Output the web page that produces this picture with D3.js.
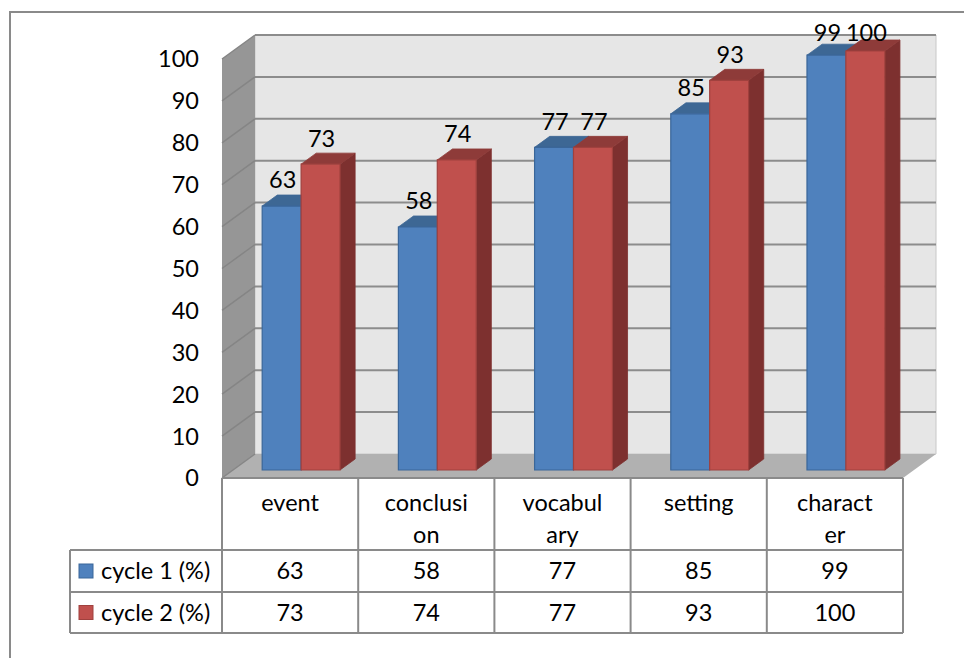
<!DOCTYPE html>
<html>
<head>
<meta charset="utf-8">
<script src="https://cdn.jsdelivr.net/npm/d3@7"></script>
<style>
  html, body { margin: 0; padding: 0; background: #fff; }
  svg { display: block; font-family: Lato, "Open Sans", sans-serif; }
</style>
</head>
<body>
<svg id="chart" width="964" height="658"></svg>
<script>
// ---- data ----
const categories = ["event", "conclusion", "vocabulary", "setting", "character"];
const categoryLines = [["event"], ["conclusi", "on"], ["vocabul", "ary"], ["setting"], ["charact", "er"]];
const seriesNames = ["cycle 1 (%)", "cycle 2 (%)"];
const cycle1 = [63, 58, 77, 85, 99];
const cycle2 = [73, 74, 77, 93, 100];
const yTicks = [0, 10, 20, 30, 40, 50, 60, 70, 80, 90, 100];

const seriesValues = [cycle1, cycle2];
const palette = {
  front: ["#4F81BD", "#C0504D"],
  top:   ["#3D6794", "#8E3B39"],
  side:  ["#335783", "#7D302F"],
  edge:  ["#3A6699", "#A0413E"]
};
const FS = 23.5;

const svg = d3.select("#chart");

// 3D box: front plane, with the back plane shifted by (DX, -DY)
const DX = 33, DY = 24;
const frontLeft = 222, frontRight = 903;
const y = d3.scaleLinear().domain([0, 100]).range([478, 59]);
const x = d3.scaleBand().domain(categories).range([frontLeft, frontRight]).paddingInner(0).paddingOuter(0);
const xs = d3.scaleBand().domain(seriesNames).range([0, x.bandwidth()]).paddingInner(0).paddingOuter(0.75);
const proj = (px, v, d) => [px + d * DX, y(v) - d * DY];
const pts = arr => arr.map(p => p.join(",")).join(" ");

// outer frame
svg.append("path").attr("d", "M10,658 V12 H964").attr("fill", "none").attr("stroke", "#8a8a8a").attr("stroke-width", 2);

// back wall
const wall = svg.append("g");
wall.append("polygon")
  .attr("points", pts([proj(frontLeft, 100, 1), proj(frontRight, 100, 1), proj(frontRight, 0, 1), proj(frontLeft, 0, 1)]))
  .attr("fill", "#e6e6e6").attr("stroke", "#c8c8c8").attr("stroke-width", 1);
// side wall
wall.append("polygon")
  .attr("points", pts([proj(frontLeft, 0, 0), proj(frontLeft, 100, 0), proj(frontLeft, 100, 1), proj(frontLeft, 0, 1)]))
  .attr("fill", "#969696");
// floor
wall.append("polygon")
  .attr("points", pts([proj(frontLeft, 0, 0), proj(frontLeft, 0, 1), proj(frontRight, 0, 1), proj(frontRight, 0, 0)]))
  .attr("fill", "#b1b1b1");

// gridlines on back wall and side wall
yTicks.forEach(t => {
  const a = proj(frontLeft, t, 0), b = proj(frontLeft, t, 1), c = proj(frontRight, t, 1);
  if (t > 0) {
    wall.append("line").attr("x1", b[0]).attr("y1", b[1]).attr("x2", c[0]).attr("y2", c[1])
      .attr("stroke", "#8c8c8c").attr("stroke-width", 2);
  }
  wall.append("line").attr("x1", a[0]).attr("y1", a[1]).attr("x2", b[0]).attr("y2", b[1])
    .attr("stroke", "#858585").attr("stroke-width", 1.5);
});

// y tick labels
svg.append("g").selectAll("text").data(yTicks).join("text")
  .attr("x", 199).attr("y", d => y(d)).attr("dy", "0.36em")
  .attr("text-anchor", "end").attr("font-size", FS).attr("fill", "#000")
  .text(d => d);

// bars (3D boxes)
const d0 = 8 / 24, d1 = 19 / 24;
const bars = svg.append("g");
const labels = svg.append("g");
categories.forEach((cat, ci) => {
  seriesNames.forEach((s, si) => {
    const v = seriesValues[si][ci];
    const xl = x(cat) + xs(s), xr = xl + xs.bandwidth();
    const fbl = proj(xl, 0, d0), fbr = proj(xr, 0, d0), ftl = proj(xl, v, d0), ftr = proj(xr, v, d0);
    const btl = proj(xl, v, d1), btr = proj(xr, v, d1), bbr = proj(xr, 0, d1);
    const g = bars.append("g");
    g.append("polygon").attr("points", pts([fbr, ftr, btr, bbr]))
      .attr("fill", palette.side[si]).attr("stroke", palette.side[si]).attr("stroke-width", 0.8);
    g.append("polygon").attr("points", pts([ftl, ftr, btr, btl]))
      .attr("fill", palette.top[si]).attr("stroke", palette.top[si]).attr("stroke-width", 0.8);
    g.append("polygon").attr("points", pts([fbl, ftl, ftr, fbr]))
      .attr("fill", palette.front[si]).attr("stroke", palette.edge[si]).attr("stroke-width", 1.2);
    // value label above the bar
    const ly = Math.max(33, btl[1] - 15);
    labels.append("text")
      .attr("x", (ftl[0] + ftr[0]) / 2 + 1).attr("y", ly).attr("dy", "0.36em")
      .attr("text-anchor", "middle").attr("font-size", FS).attr("fill", "#000")
      .text(v);
  });
});

// data table
const table = svg.append("g");
const rowTop = 478, headerBottom = 550, row1Bottom = 592, row2Bottom = 633;
const legendLeft = 70;
const lineColor = "#8a8a8a";
const hline = (x1, x2, yy) => table.append("line").attr("x1", x1).attr("x2", x2).attr("y1", yy).attr("y2", yy)
  .attr("stroke", lineColor).attr("stroke-width", 2);
const vline = (xx, y1, y2) => table.append("line").attr("x1", xx).attr("x2", xx).attr("y1", y1).attr("y2", y2)
  .attr("stroke", lineColor).attr("stroke-width", 2);

hline(frontLeft, frontRight, rowTop);
hline(legendLeft, frontRight, headerBottom);
hline(legendLeft, frontRight, row1Bottom);
hline(legendLeft, frontRight, row2Bottom);
vline(legendLeft, headerBottom, row2Bottom);
vline(frontLeft, rowTop, row2Bottom);
categories.forEach(cat => vline(x(cat) + x.bandwidth(), rowTop, row2Bottom));

// header: category names
categories.forEach((cat, ci) => {
  const cx = x(cat) + x.bandwidth() / 2;
  categoryLines[ci].forEach((ln, li) => {
    table.append("text").attr("x", cx).attr("y", 503 + li * 32).attr("dy", "0.36em")
      .attr("text-anchor", "middle").attr("font-size", FS).attr("fill", "#000").text(ln);
  });
});

// series rows
const rowMid = [(headerBottom + row1Bottom) / 2, (row1Bottom + row2Bottom) / 2];
seriesNames.forEach((s, si) => {
  table.append("rect").attr("x", 79).attr("y", rowMid[si] - 7).attr("width", 14).attr("height", 14)
    .attr("fill", palette.front[si]).attr("stroke", palette.edge[si]).attr("stroke-width", 1);
  table.append("text").attr("x", 101).attr("y", rowMid[si]).attr("dy", "0.36em")
    .attr("font-size", FS).attr("fill", "#000").text(s);
  categories.forEach((cat, ci) => {
    table.append("text").attr("x", x(cat) + x.bandwidth() / 2).attr("y", rowMid[si]).attr("dy", "0.36em")
      .attr("text-anchor", "middle").attr("font-size", FS).attr("fill", "#000").text(seriesValues[si][ci]);
  });
});
</script>
</body>
</html>
